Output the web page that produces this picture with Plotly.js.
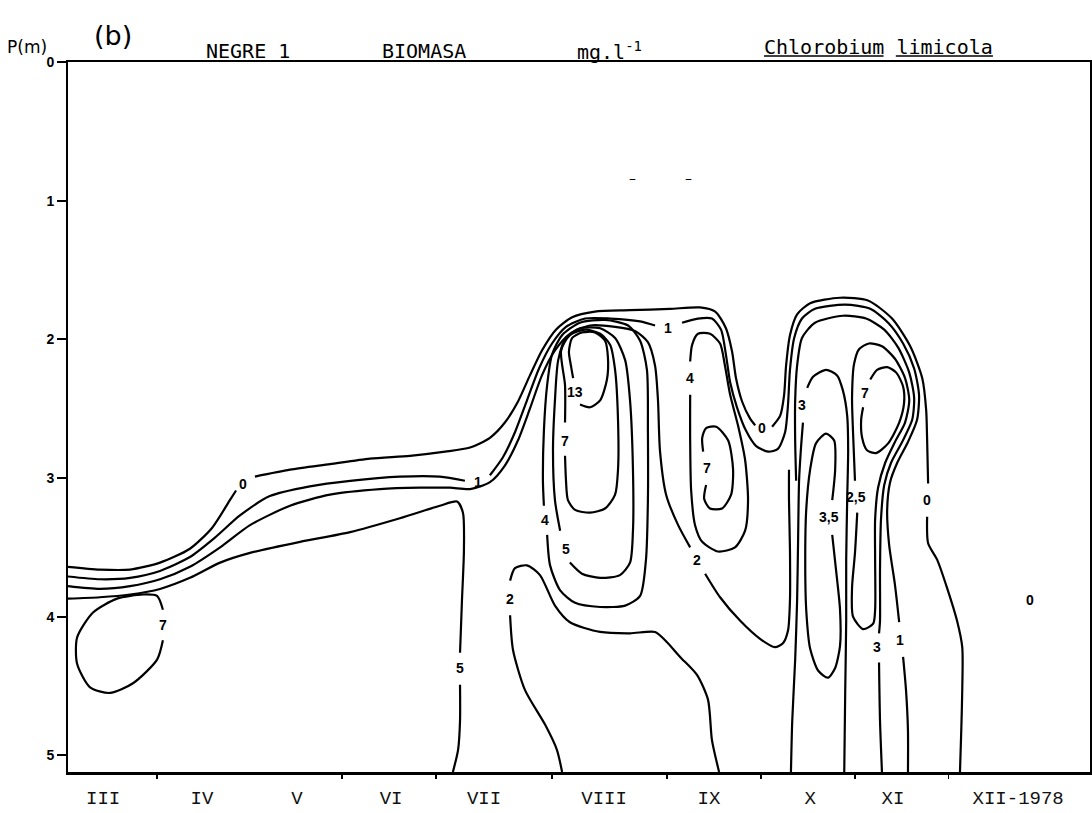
<!DOCTYPE html>
<html>
<head>
<meta charset="utf-8">
<script src="https://cdn.plot.ly/plotly-3.0.1.min.js"></script>
<style>html,body{margin:0;padding:0;background:#fff;}#chart{width:1092px;height:813px;}</style>
</head>
<body>
<div id="chart"></div>
<script>
// Time axis: days since 1 March 1978; depth in metres (P)
var monthLabels = ['III','IV','V','VI','VII','VIII','IX','X','XI','XII-1978'];
var monthLabelDay = [14.2,44.6,73.8,102.8,131.4,168.3,200.6,231.7,257.2,295.7];
var monthTickDay = [30.8,87.7,116.6,152.3,187.7,216.6,245.5,274.2];
var depthTicks = [0,1,2,3,4,5];

// isoline 0 (outer boundary)
var c0Day = [3.4,13.2,22.5,31.7,40.9,47.7,53.2,55.1,null,60.9,71.7,84.0,96.3,108.6,119.4,127.1,133.2,137.8,141.8,145.5,149.2,153.5,158.5,165.5,176.3,188.6,197.8,202.5,205.8,207.7,208.9,210.8,213.2,214.8,null,220.0,222.5,223.7,224.3,225.5,227.7,231.7,240.9,249.5,256.9,262.5,266.2,267.4,267.7,268.0,null,267.7,268.0,270.8,273.8,276.9,278.5,278.5,278.2,277.8];
var c0Depth = [3.64,3.66,3.66,3.61,3.51,3.36,3.16,3.09,null,2.99,2.94,2.90,2.86,2.84,2.81,2.78,2.71,2.60,2.45,2.26,2.08,1.93,1.84,1.80,1.79,1.78,1.77,1.80,1.92,2.09,2.28,2.45,2.57,2.62,null,2.63,2.55,2.40,2.19,1.97,1.82,1.74,1.70,1.72,1.85,2.05,2.28,2.51,2.73,3.04,null,3.28,3.47,3.59,3.79,4.03,4.22,4.53,4.82,5.12];
// isoline 1
var c1Day = [3.4,13.2,22.5,31.7,40.9,48.6,56.3,65.5,77.8,90.2,105.5,117.8,125.5,null,133.2,137.2,140.9,144.6,148.3,152.3,156.6,162.5,170.2,179.4,184.0,null,192.3,197.2,201.5,204.3,205.8,207.1,209.2,212.0,215.1,218.8,221.8,224.0,224.9,225.5,226.8,229.2,233.2,242.5,250.2,255.7,260.3,263.7,265.2,264.6,261.8,258.5,256.3,255.4,256.0,257.8,259.1,null,260.3,261.2,261.8,261.8];
var c1Depth = [3.71,3.73,3.72,3.67,3.57,3.43,3.27,3.13,3.06,3.02,2.99,2.99,3.02,null,2.98,2.85,2.67,2.44,2.21,2.03,1.91,1.85,1.85,1.87,1.90,null,1.88,1.85,1.85,1.93,2.11,2.31,2.49,2.66,2.77,2.81,2.79,2.67,2.47,2.22,1.99,1.85,1.78,1.75,1.78,1.88,2.03,2.21,2.40,2.58,2.74,2.89,3.03,3.23,3.48,3.77,4.04,null,4.29,4.53,4.82,5.12];
// isoline 2 (upper)
var c2Day = [3.4,13.2,22.5,31.7,40.9,50.2,59.4,71.7,84.0,99.4,111.7,120.9,127.1,133.2,137.8,141.8,145.5,149.2,153.2,157.8,164.0,171.7,177.8,181.8,184.0,184.9,185.5,187.4,191.1,194.8,null,199.4,204.0,210.2,216.3,220.9,223.4,224.9,225.5,225.5,225.2,225.2];
var c2Depth = [3.78,3.80,3.78,3.73,3.64,3.50,3.34,3.20,3.12,3.08,3.07,3.07,3.08,3.03,2.91,2.73,2.50,2.26,2.08,1.96,1.90,1.91,1.94,2.02,2.19,2.44,2.80,3.12,3.34,3.50,null,3.69,3.86,4.03,4.16,4.22,4.19,4.10,3.88,3.52,3.16,2.94];
// isoline 2 (lower, VII-IX)
var c2bDay = [155.4,153.8,150.2,144.0,140.3,139.4,null,139.4,140.9,144.6,148.6,153.2,157.8,167.1,176.3,184.0,187.1,191.7,196.9,200.3,201.5,203.7];
var c2bDepth = [5.12,4.96,4.78,4.53,4.24,3.99,null,3.74,3.65,3.63,3.70,3.92,4.04,4.11,4.12,4.11,4.17,4.29,4.42,4.60,4.89,5.12];
// isoline 5 (III-VII)
var c5Day = [3.4,13.2,22.5,31.7,40.9,50.2,59.4,74.8,90.2,105.5,117.8,123.1,124.9,125.2,124.6,124.0,null,124.0,124.0,123.4,121.8];
var c5Depth = [3.87,3.86,3.84,3.80,3.72,3.61,3.54,3.46,3.39,3.29,3.20,3.17,3.25,3.52,3.88,4.26,null,4.49,4.75,4.96,5.12];
// isoline 7 (III)
var c7IIIDay = [32.6,30.8,23.4,16.3,10.2,6.2,6.2,11.1,18.5,26.5,30.8,32.6];
var c7IIIDepth = [4.17,4.31,4.48,4.55,4.51,4.34,4.15,3.97,3.87,3.84,3.85,3.95];
// VIII maximum: 4, 5, 7, 13
var c4VIIIDay = [150.8,151.7,154.8,159.4,167.1,174.8,179.4,181.2,181.8,181.8,181.5,179.4,175.7,168.6,160.9,155.4,152.3,150.8,149.8,149.5,149.8];
var c4VIIIDepth = [3.41,3.63,3.81,3.90,3.93,3.92,3.85,3.59,3.16,2.66,2.22,2.01,1.90,1.86,1.88,1.97,2.11,2.33,2.66,3.02,3.20];
var c5VIIIDay = [157.8,161.5,167.1,173.2,176.3,177.2,177.2,176.3,174.8,171.7,167.1,160.9,156.6,154.2,153.2,152.6,153.2,154.8];
var c5VIIIDepth = [3.61,3.69,3.72,3.70,3.61,3.38,2.94,2.44,2.15,1.99,1.92,1.92,1.99,2.15,2.44,2.80,3.16,3.38];
var c7VIIIDay = [156.3,156.6,157.2,159.4,164.0,168.6,171.7,172.6,172.6,171.7,170.2,167.1,162.5,157.8,155.1,156.3,156.3];
var c7VIIIDepth = [2.84,3.02,3.16,3.23,3.25,3.22,3.12,2.94,2.58,2.22,2.04,1.96,1.93,1.97,2.08,2.33,2.60];
var c13Day = [160.9,164.0,167.1,169.2,169.5,168.6,165.5,161.5,158.5,157.5,158.2,158.8];
var c13Depth = [2.47,2.49,2.44,2.29,2.13,2.01,1.95,1.95,1.99,2.09,2.20,2.28];
// IX maximum: 4, 7
var c4IXDay = [194.8,194.8,195.1,196.3,198.5,203.4,208.6,211.7,212.6,211.7,209.5,207.1,205.5,204.0,200.9,197.2,195.4,194.8];
var c4IXDepth = [2.40,2.73,3.09,3.34,3.46,3.53,3.50,3.38,3.16,2.87,2.62,2.40,2.19,2.03,1.96,1.96,2.04,2.16];
var c7IXDay = [199.7,199.1,200.9,204.6,207.4,208.0,206.5,202.8,199.7,198.5,198.8];
var c7IXDepth = [3.05,3.15,3.22,3.22,3.12,2.94,2.73,2.63,2.64,2.71,2.81];
// X-XI: 3, 3.5, 2.5, 7, 3
var c3XDay = [225.8,226.2,227.1,227.7,228.0,228.3,228.9,229.5,null,230.8,232.6,236.6,240.0,241.8,243.1,243.4,243.1,242.8,242.8,242.5,242.2];
var c3XDepth = [5.12,4.75,4.31,3.88,3.45,3.02,2.78,2.60,null,2.35,2.27,2.22,2.26,2.37,2.55,2.80,3.16,3.59,4.03,4.53,5.12];
var c35Day = [238.5,239.7,240.9,240.9,239.4,237.2,234.2,231.7,230.5,230.2,230.5,231.7,233.5,236.6,239.1,239.4,238.5];
var c35Depth = [3.41,3.67,3.95,4.21,4.37,4.44,4.39,4.23,3.95,3.59,3.23,2.94,2.75,2.68,2.73,2.94,3.16];
var c25Day = [246.2,245.5,244.6,244.9,248.0,251.1,251.7,251.7,251.7,252.6,254.8,257.8,260.9,262.2,260.9,257.8,253.8,249.8,246.8,245.2,244.6,244.9,245.5];
var c25Depth = [3.25,3.54,3.79,4.00,4.09,4.05,3.95,3.59,3.30,3.07,2.89,2.74,2.60,2.44,2.28,2.14,2.05,2.03,2.07,2.18,2.42,2.67,3.02];
var c7XIDay = [250.2,252.3,255.4,258.2,260.3,260.6,259.1,255.7,252.0,249.2,247.7,247.4,248.0];
var c7XIDepth = [2.29,2.22,2.20,2.24,2.34,2.46,2.60,2.75,2.82,2.80,2.71,2.58,2.49];
var c3XIDay = [227.4,227.1,227.1,227.7,229.2,233.2,241.8,248.9,254.5,258.8,262.2,263.7,263.1,260.0,256.6,254.5,253.5,253.2,253.2,252.9,null,252.9,253.2,253.8];
var c3XIDepth = [3.02,2.73,2.44,2.19,1.99,1.88,1.83,1.85,1.93,2.06,2.24,2.42,2.58,2.74,2.89,3.05,3.30,3.67,4.03,4.12,null,4.33,4.75,5.12];

// isoline value labels
var labelText = ['0','1','5','7','2','4','5','7','13','1','4','7','2','0','3','3,5','2,5','7','3','1','0','0'];
var labelDay = [57.2,129.5,124.0,32.6,139.4,150.2,156.6,156.3,159.4,188.0,194.8,200.0,196.9,216.9,229.2,237.5,245.8,248.6,252.3,259.4,267.7,299.4];
var labelDepth = [3.04,3.03,4.37,4.06,3.87,3.30,3.51,2.73,2.38,1.92,2.28,2.93,3.59,2.64,2.47,3.28,3.14,2.39,4.22,4.17,3.16,3.88];

var lines = [
  [c0Day,c0Depth],[c1Day,c1Depth],[c2Day,c2Depth],[c2bDay,c2bDepth],[c5Day,c5Depth],
  [c7IIIDay,c7IIIDepth],[c4VIIIDay,c4VIIIDepth],[c5VIIIDay,c5VIIIDepth],[c7VIIIDay,c7VIIIDepth],
  [c13Day,c13Depth],[c4IXDay,c4IXDepth],[c7IXDay,c7IXDepth],[c3XDay,c3XDepth],[c35Day,c35Depth],
  [c25Day,c25Depth],[c7XIDay,c7XIDepth],[c3XIDay,c3XIDepth]
];
var traces = lines.map(function(p){
  return {x:p[0], y:p[1], type:'scatter', mode:'lines', connectgaps:false,
    line:{color:'#000', width:2.2, shape:'spline', smoothing:0.7}, hoverinfo:'skip', showlegend:false};
});
// invisible trace to activate the second x axis (month boundary ticks)
traces.push({x:[monthTickDay[0]], y:[0], xaxis:'x2', yaxis:'y', mode:'markers', marker:{opacity:0}, showlegend:false, hoverinfo:'skip'});

var xr = [3.4, 317.8];
var annotations = labelText.map(function(t,i){
  return {x:labelDay[i], y:labelDepth[i], xref:'x', yref:'y', text:t, showarrow:false,
    font:{family:'Liberation Sans', size:14, color:'#000', weight:'bold'}, xanchor:'center', yanchor:'middle'};
});
var hdrFont = {family:'DejaVu Sans Mono', size:20, color:'#000'};
annotations.push(
  {xref:'paper', yref:'paper', x:-0.040, y:1.021, text:'P(m)', showarrow:false, font:{family:'DejaVu Sans', size:17, color:'#000'}, xanchor:'center', yanchor:'middle'},
  {xref:'paper', yref:'paper', x:0.044, y:1.037, text:'(b)', showarrow:false, font:{family:'DejaVu Sans', size:27, color:'#000'}, xanchor:'center', yanchor:'middle'},
  {xref:'paper', yref:'paper', x:0.176, y:1.0155, text:'NEGRE 1', showarrow:false, font:hdrFont, xanchor:'center', yanchor:'middle'},
  {xref:'paper', yref:'paper', x:0.348, y:1.0155, text:'BIOMASA', showarrow:false, font:hdrFont, xanchor:'center', yanchor:'middle'},
  {xref:'paper', yref:'paper', x:0.530, y:1.0155, text:'mg.l<sup>-1</sup>', showarrow:false, font:hdrFont, xanchor:'center', yanchor:'middle'},
  {xref:'paper', yref:'paper', x:0.793, y:1.0210, text:'Chlorobium limicola', showarrow:false, font:hdrFont, xanchor:'center', yanchor:'middle'},
  {xref:'x', yref:'y', x:177.2, y:0.84, text:'–', showarrow:false, font:{family:'DejaVu Sans', size:14, color:'#000'}},
  {xref:'x', yref:'y', x:194.2, y:0.84, text:'–', showarrow:false, font:{family:'DejaVu Sans', size:14, color:'#000'}}
);

// underlines of the species name (decoration of the header text)
var shapes = [
  {type:'line', xref:'paper', yref:'paper', x0:0.681, x1:0.798, y0:1.0085, y1:1.0085, line:{color:'#000', width:1.5}},
  {type:'line', xref:'paper', yref:'paper', x0:0.810, x1:0.905, y0:1.0085, y1:1.0085, line:{color:'#000', width:1.5}}
];

var layout = {
  width:1092, height:813,
  margin:{l:68, r:2, t:62, b:41},
  paper_bgcolor:'#fff', plot_bgcolor:'#fff',
  showlegend:false, hovermode:false,
  xaxis:{range:xr, tickvals:monthLabelDay, ticktext:monthLabels, ticks:'', showgrid:false, zeroline:false,
    showline:true, linecolor:'#000', linewidth:2.5, mirror:true, ticklabelstandoff:7,
    tickfont:{family:'Liberation Mono', size:19, color:'#111'}},
  xaxis2:{range:xr, overlaying:'x', anchor:'y', side:'bottom', tickvals:monthTickDay, ticks:'outside', ticklen:6, tickwidth:1.5,
    tickcolor:'#000', showticklabels:false, showgrid:false, zeroline:false, showline:false},
  yaxis:{range:[5.12,0], tickvals:depthTicks, ticks:'outside', ticklen:9, tickwidth:2, tickcolor:'#000',
    showgrid:false, zeroline:false, showline:true, linecolor:'#000', linewidth:2, mirror:true,
    tickfont:{family:'Liberation Sans', size:14, color:'#000', weight:'bold'}},
  shapes:shapes,
  annotations:annotations
};
Plotly.newPlot('chart', traces, layout, {staticPlot:true, displayModeBar:false});
</script>
</body>
</html>
